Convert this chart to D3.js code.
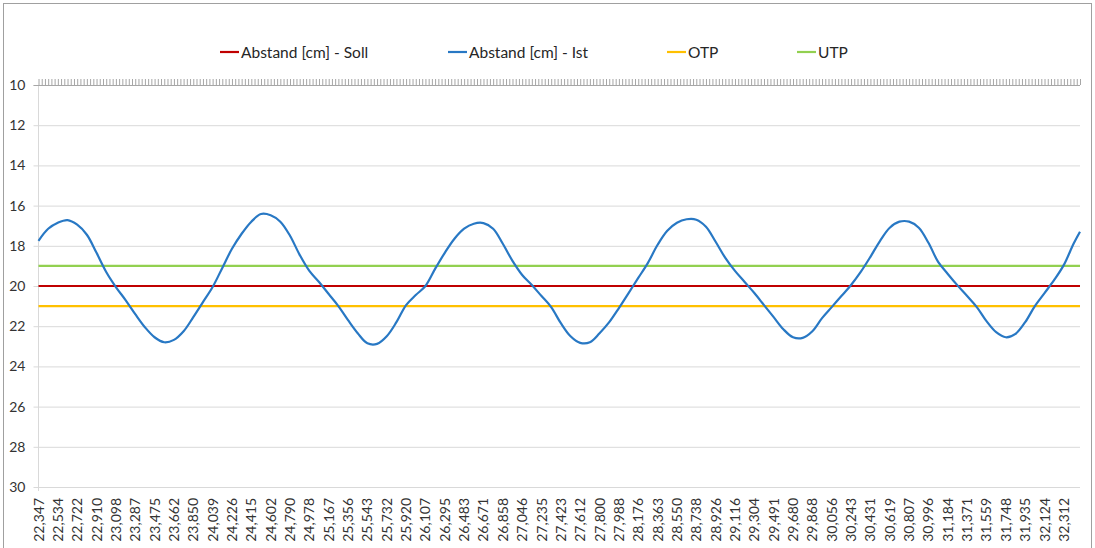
<!DOCTYPE html>
<html>
<head>
<meta charset="utf-8">
<script src="https://cdn.jsdelivr.net/npm/d3@7"></script>
<style>
  body { margin: 0; background: #fff; }
  svg { display: block; font-family: Lato, "Liberation Sans", sans-serif; }
</style>
</head>
<body>
<svg id="chart" width="1095" height="548"></svg>
<script>
// category labels (every 6th category gets a label)
const xLabels = ["22,347","22,534","22,722","22,910","23,098","23,287","23,475","23,662","23,850","24,039",
  "24,226","24,415","24,602","24,790","24,978","25,167","25,356","25,543","25,732","25,920",
  "26,107","26,295","26,483","26,671","26,858","27,046","27,235","27,423","27,612","27,800",
  "27,988","28,176","28,363","28,550","28,738","28,926","29,116","29,304","29,491","29,680",
  "29,868","30,056","30,243","30,431","30,619","30,807","30,996","31,184","31,371","31,559",
  "31,748","31,935","32,124","32,312"];
const nCategories = 324;
const labelEvery = 6;

// Abstand [cm] - Ist, read every 3rd category (last value = last category)
const ist = [17.75,17.15,16.85,16.72,16.95,17.45,18.35,19.3,20.05,20.7,
  21.4,22.05,22.55,22.8,22.68,22.25,21.55,20.8,20.05,19.1,
  18.15,17.4,16.8,16.42,16.48,16.8,17.5,18.45,19.25,19.8,
  20.4,21.0,21.7,22.35,22.85,22.88,22.5,21.8,20.95,20.45,
  20.0,19.15,18.35,17.65,17.15,16.9,16.87,17.15,17.9,18.75,
  19.45,19.95,20.5,21.05,21.85,22.5,22.83,22.8,22.35,21.8,
  21.1,20.35,19.6,18.85,17.95,17.25,16.85,16.68,16.7,17.05,
  17.8,18.6,19.25,19.8,20.35,20.95,21.55,22.15,22.55,22.58,
  22.25,21.6,21.05,20.5,19.95,19.3,18.55,17.75,17.1,16.8,
  16.8,17.1,17.85,18.8,19.4,19.97,20.5,21.05,21.75,22.3,
  22.55,22.38,21.8,21.0,20.35,19.7,18.95,17.9,17.3];
const istCats = d3.range(0, 322, 3).concat([nCategories - 1]);

const soll = 20;
const otp = 21;
const utp = 19;
const yTicks = [10, 12, 14, 16, 18, 20, 22, 24, 26, 28, 30];

const legendItems = [
  { name: "Abstand [cm] - Soll", color: "#c00000" },
  { name: "Abstand [cm] - Ist", color: "#2878c4" },
  { name: "OTP", color: "#ffc000" },
  { name: "UTP", color: "#92d050" }
];

const svg = d3.select("#chart");
const plotLeft = 38.5, plotRight = 1080, plotTop = 85, plotBottom = 487;

// outer chart border
svg.append("rect")
  .attr("x", 3.5).attr("y", 3.5)
  .attr("width", 1088).attr("height", 560)
  .attr("fill", "none").attr("stroke", "#a0a0a0");

const x = d3.scaleLinear().domain([0, nCategories - 1]).range([plotLeft, plotRight]);
const y = d3.scaleLinear().domain([10, 30]).range([plotTop, plotBottom]);

// gridlines + y axis
const yAxis = svg.append("g")
  .attr("transform", `translate(${plotLeft},0)`)
  .call(d3.axisLeft(y).tickValues(yTicks).tickSize(-(plotRight - plotLeft)).tickPadding(13).tickFormat(d3.format("d")));
yAxis.select(".domain").remove();
yAxis.selectAll(".tick line")
  .attr("x1", -5)
  .attr("stroke", "#d9d9d9");
yAxis.selectAll(".tick text")
  .attr("fill", "#333")
  .style("font-size", "14px")
  .style("font-family", "Lato, sans-serif");

svg.append("line")
  .attr("x1", plotLeft).attr("x2", plotLeft)
  .attr("y1", plotTop).attr("y2", plotBottom + 4)
  .attr("stroke", "#d9d9d9");

// category axis at the top (reversed value axis), ticks for every category
const topAxis = svg.append("g")
  .attr("transform", `translate(0,${plotTop})`)
  .call(d3.axisTop(x).tickValues(d3.range(nCategories)).tickSize(6).tickFormat(""));
topAxis.select(".domain").attr("stroke", "#a6a6a6").attr("d", `M${plotLeft - 5},0.5H${plotRight}`);
topAxis.selectAll(".tick line").attr("stroke", "#a6a6a6");

// category labels at the bottom
svg.append("g")
  .selectAll("text")
  .data(xLabels)
  .join("text")
  .attr("transform", (d, i) => `translate(${x(i * labelEvery) + 5},${plotBottom + 11}) rotate(-90)`)
  .attr("text-anchor", "end")
  .attr("fill", "#333")
  .style("font-size", "14px")
  .text(d => d);

// constant series
const flat = [[soll, legendItems[0].color], [otp, legendItems[2].color], [utp, legendItems[3].color]];
svg.append("g")
  .selectAll("line")
  .data([flat[2], flat[1], flat[0]])
  .join("line")
  .attr("x1", x(0)).attr("x2", x(nCategories - 1))
  .attr("y1", d => y(d[0])).attr("y2", d => y(d[0]))
  .attr("stroke", d => d[1])
  .attr("stroke-width", 2.2);

// Ist series
const line = d3.line()
  .x((d, i) => x(istCats[i]))
  .y(d => y(d))
  .curve(d3.curveCatmullRom);
svg.append("path")
  .datum(ist)
  .attr("d", line)
  .attr("fill", "none")
  .attr("stroke", legendItems[1].color)
  .attr("stroke-width", 2.2)
  .attr("stroke-linejoin", "round");

// legend
const legendX = [220, 448, 667, 797];
const legend = svg.append("g")
  .selectAll("g")
  .data(legendItems)
  .join("g")
  .attr("transform", (d, i) => `translate(${legendX[i]},52)`);
legend.append("line")
  .attr("x1", 0).attr("x2", 19)
  .attr("stroke", d => d.color)
  .attr("stroke-width", 2.2);
legend.append("text")
  .attr("x", 21).attr("y", 5.5)
  .attr("fill", "#262626")
  .style("font-size", "15.5px")
  .text(d => d.name);
</script>
</body>
</html>
